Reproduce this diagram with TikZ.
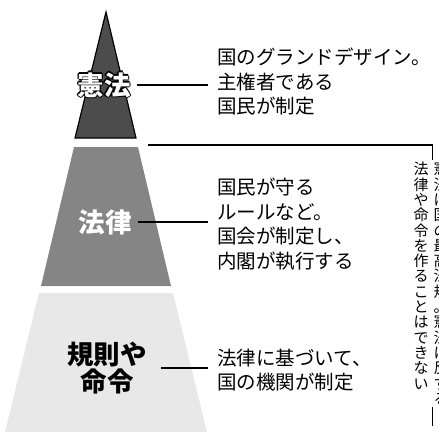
\documentclass[tikz,border=0pt]{standalone}
\usepackage{fontspec}
\newfontfamily\jp{Noto Sans CJK JP}
\usetikzlibrary{positioning}

% white letters with a black rim
\newcommand\fuchidori[1]{\setbox0\hbox{#1}%
  \rlap{\color{black}\kern-1.1pt\copy0}\rlap{\color{black}\kern1.1pt\copy0}%
  \rlap{\color{black}\raise1.1pt\copy0}\rlap{\color{black}\lower1.1pt\copy0}%
  \rlap{\color{black}\kern-.8pt\raise.8pt\copy0}\rlap{\color{black}\kern.8pt\raise.8pt\copy0}%
  \rlap{\color{black}\kern-.8pt\lower.8pt\copy0}\rlap{\color{black}\kern.8pt\lower.8pt\copy0}%
  \box0}

\begin{document}
\begin{tikzpicture}[x=1pt, y=-1pt, inner sep=0pt,
    rabel/.style={font=\jp\bfseries\fontsize{26.5}{27}\selectfont, align=center},
    setsumei/.style={font=\jp\fontsize{19.5}{24.5}\selectfont, align=left, anchor=west},
    tate/.style={font=\jp\fontsize{15}{15.3}\selectfont, align=center, anchor=north, text width=15pt},
    sen/.style={line width=1.1pt}]

    \useasboundingbox (0,0) rectangle (439,432);

    % the three layers
    \filldraw[fill=black!70, draw=black, line width=1.2pt] (106,12) -- (136,138) -- (75,138) -- cycle;
    \fill[black!48] (74,147) -- (138,147) -- (171,286) -- (41,286) -- cycle;
    \fill[black!9] (39,293) -- (173,293) -- (207,432) -- (5,432) -- cycle;

    \node [rabel, text=white] (kenpo) at (104,85) {\fuchidori{憲法}};
    \node [rabel, text=white] (horitsu) at (105,222) {法律};
    \node [rabel] (kisoku) at (107,368) {規則や\\命令};

    \node [setsumei] (kenpo-text) at (217,82) {国のグランドデザイン。\\主権者である\\国民が制定};
    \node [setsumei] (horitsu-text) at (217,224) {国民が守る\\ルールなど。\\国会が制定し、\\内閣が執行する};
    \node [setsumei] (kisoku-text) at (217,370) {法律に基づいて、\\国の機関が制定};

    \draw[sen, shorten <=6pt, shorten >=9pt] (kenpo.east) -- (kenpo.east -| kenpo-text.west);
    \draw[sen, shorten <=6pt, shorten >=9pt] (horitsu.east) -- (horitsu.east -| horitsu-text.west);
    \draw[sen, shorten <=14pt, shorten >=9pt] (kisoku.east) -- (kisoku.east -| kisoku-text.west);

    % bracket with the vertical note
    \coordinate (hajime) at (148,145);
    \coordinate (kado) at (432.5,145);
    \coordinate (owari) at (432.5,426);
    \draw[sen] (hajime) -- (kado) -- (owari);

    \node [tate] (chui1) at (421,162) {法\\律\\や\\命\\令\\を\\作\\る\\こ\\と\\は\\で\\き\\な\\い};
    \node [tate, fill=white, inner xsep=3pt, inner ysep=2pt] (chui2) at (441,160) {憲\\法\\は\\国\\の\\最\\高\\法\\規\\。\\憲\\法\\に\\反\\す\\る};
\end{tikzpicture}
\end{document}
